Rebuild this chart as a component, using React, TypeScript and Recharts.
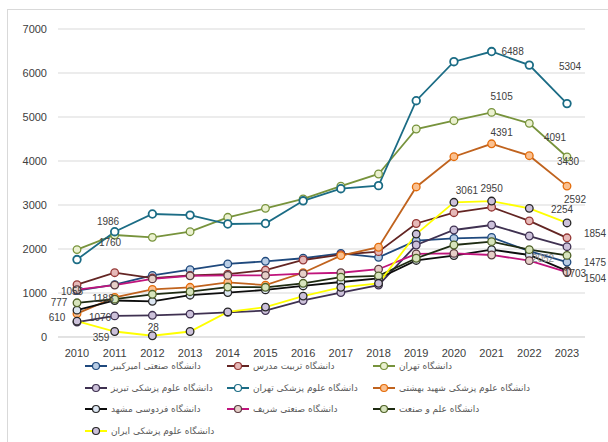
import React from 'react';
import { LineChart, Line, XAxis, YAxis, CartesianGrid } from 'recharts';

const years = ['2010', '2011', '2012', '2013', '2014', '2015', '2016', '2017', '2018', '2019', '2020', '2021', '2022', '2023'];
const yTicks = [0, 1000, 2000, 3000, 4000, 5000, 6000, 7000];

// series values
const amirkabir = [1055, 1190, 1400, 1530, 1660, 1720, 1790, 1900, 1810, 2190, 2242, 2265, 1950, 1703];
const tarbiatModares = [1188, 1461, 1340, 1400, 1430, 1520, 1750, 1870, 1940, 2580, 2825, 2950, 2640, 2254];
const tehran = [1986, 2318, 2265, 2393, 2720, 2924, 3140, 3430, 3705, 4727, 4916, 5105, 4856, 4091];
const tabrizMed = [340, 480, 493, 520, 560, 600, 830, 1010, 1180, 2091, 2432, 2545, 2295, 2052];
const tehranMed = [1760, 2393, 2795, 2770, 2568, 2580, 3095, 3370, 3440, 5370, 6257, 6488, 6180, 5304];
const beheshti = [530, 900, 1083, 1130, 1240, 1180, 1460, 1850, 2040, 3410, 4098, 4391, 4121, 3430];
const ferdowsi = [610, 830, 811, 950, 1010, 1070, 1160, 1250, 1330, 1740, 1850, 1985, 1864, 1504];
const sharif = [1076, 1180, 1320, 1390, 1400, 1400, 1440, 1460, 1540, 1890, 1900, 1864, 1735, 1475];
const elmoSanat = [777, 860, 970, 1030, 1135, 1130, 1220, 1360, 1390, 1790, 2091, 2167, 1985, 1854];
const iranMed = [359, 125, 28, 125, 570, 680, 930, 1130, 1220, 2340, 3061, 3090, 2924, 2592];

const series = [
  { key: 'amirkabir', name: 'دانشگاه صنعتی امیرکبیر', values: amirkabir, stroke: '#1F497D', fill: '#B9CDE5', dotStroke: '#1F497D' },
  { key: 'tarbiatModares', name: 'دانشگاه تربیت مدرس', values: tarbiatModares, stroke: '#632523', fill: '#E6B9B8', dotStroke: '#953735' },
  { key: 'tehran', name: 'دانشگاه تهران', values: tehran, stroke: '#77933C', fill: '#EBF1D0', dotStroke: '#77933C' },
  { key: 'tabrizMed', name: 'دانشگاه علوم پزشکی تبریز', values: tabrizMed, stroke: '#3F3151', fill: '#CCC1DA', dotStroke: '#3F3151' },
  { key: 'tehranMed', name: 'دانشگاه علوم پزشکی تهران', values: tehranMed, stroke: '#1B6C85', fill: '#FFFFFF', dotStroke: '#1B6C85' },
  { key: 'beheshti', name: 'دانشگاه علوم پزشکی شهید بهشتی', values: beheshti, stroke: '#C0631E', fill: '#FAC090', dotStroke: '#E46C0A' },
  { key: 'ferdowsi', name: 'دانشگاه فردوسی مشهد', values: ferdowsi, stroke: '#0D0D0D', fill: '#DCE6F2', dotStroke: '#262626' },
  { key: 'sharif', name: 'دانشگاه صنعتی شریف', values: sharif, stroke: '#C0147C', fill: '#E6CFC8', dotStroke: '#5A3A40' },
  { key: 'elmoSanat', name: 'دانشگاه علم و صنعت', values: elmoSanat, stroke: '#1E2B12', fill: '#D7E4BD', dotStroke: '#4F6228' },
  { key: 'iranMed', name: 'دانشگاه علوم پزشکی ایران', values: iranMed, stroke: '#FFFF00', fill: '#CCC1DA', dotStroke: '#262626' },
];

// data labels: which point, and where the label was dragged to
const dataLabels = [
  { key: 'tehran', year: '2010', dx: 31, dy: -28 },
  { key: 'tehranMed', year: '2010', dx: 33, dy: -17 },
  { key: 'amirkabir', year: '2010', dx: -5, dy: 1 },
  { key: 'tarbiatModares', year: '2010', dx: 26, dy: 14 },
  { key: 'elmoSanat', year: '2010', dx: -18, dy: 0 },
  { key: 'ferdowsi', year: '2010', dx: -20, dy: 7 },
  { key: 'sharif', year: '2010', dx: 23, dy: 28 },
  { key: 'iranMed', year: '2010', dx: 24, dy: 16 },
  { key: 'iranMed', year: '2012', dx: 1, dy: -8 },
  { key: 'tehranMed', year: '2021', dx: 21, dy: 0 },
  { key: 'tehranMed', year: '2023', dx: 3, dy: -37 },
  { key: 'tehran', year: '2021', dx: 10, dy: -16 },
  { key: 'beheshti', year: '2021', dx: 10, dy: -11 },
  { key: 'tehran', year: '2023', dx: -12, dy: -19 },
  { key: 'beheshti', year: '2023', dx: 1, dy: -25 },
  { key: 'iranMed', year: '2020', dx: 13, dy: -12 },
  { key: 'tarbiatModares', year: '2021', dx: 0, dy: -19 },
  { key: 'iranMed', year: '2023', dx: 8, dy: -23 },
  { key: 'tarbiatModares', year: '2023', dx: -5, dy: -28 },
  { key: 'elmoSanat', year: '2023', dx: 28, dy: -22 },
  { key: 'amirkabir', year: '2023', dx: 8, dy: 11 },
  { key: 'sharif', year: '2023', dx: 28, dy: -10 },
  { key: 'ferdowsi', year: '2023', dx: 28, dy: 8 },
  { key: 'tabrizMed', year: '2023', dx: -24, dy: 12, muted: true },
];

const data = years.map((year, i) => {
  const row: Record<string, any> = { year };
  series.forEach((s) => { row[s.key] = s.values[i]; });
  return row;
});

const font = '"Liberation Sans", Arial, sans-serif';

function makeLabel(key: string) {
  return (props: any) => {
    const { x, y, value, index } = props;
    const hit = dataLabels.find((l) => l.key === key && l.year === years[index]);
    if (!hit) return <g />;
    return (
      <text x={x + hit.dx} y={y + hit.dy} textAnchor="middle" dominantBaseline="central"
        fontSize={10} fontFamily={font} fill={hit.muted ? '#8c8c8c' : '#404040'}>
        {value}
      </text>
    );
  };
}

const legendCols = [85, 227, 373];
const legendRows = [366, 388, 409, 431];

function LegendItem({ s, x, y }: { s: typeof series[number]; x: number; y: number }) {
  return (
    <div style={{ position: 'absolute', left: x, top: y - 7, height: 14, display: 'flex', alignItems: 'center', whiteSpace: 'nowrap' }}>
      <svg width={22} height={12}>
        <line x1={0} y1={6} x2={22} y2={6} stroke={s.stroke} strokeWidth={2} />
        <circle cx={11} cy={6} r={3.5} fill={s.fill} stroke={s.dotStroke} strokeWidth={1.2} />
      </svg>
      <span style={{ marginLeft: 4, fontFamily: '"DejaVu Sans", sans-serif', fontSize: 9, color: '#595959' }}>{s.name}</span>
    </div>
  );
}

export default function App() {
  return (
    <div style={{ position: 'absolute', left: 0, top: 0, width: 608, height: 442, overflow: 'hidden', background: '#fff' }}>
      <div style={{ position: 'absolute', left: 7, top: 9, width: 640, height: 460, border: '1px solid #D9D9D9' }} />
      <div style={{ position: 'absolute', left: 0, top: 0 }}>
        <LineChart width={608} height={362} data={data} margin={{ top: 29, right: 23, left: 0, bottom: 0 }}>
          <CartesianGrid vertical={false} stroke="#D9D9D9" />
          <XAxis dataKey="year" height={25} padding={{ left: 19, right: 18 }} tickLine={false} tickSize={0} tickMargin={12}
            axisLine={{ stroke: '#D9D9D9' }} tick={{ fontSize: 11, fontFamily: font, fill: '#404040' }} interval={0} />
          <YAxis width={58} domain={[0, 7000]} ticks={yTicks} axisLine={false} tickLine={false} tickSize={0} tickMargin={11}
            tick={{ fontSize: 11, fontFamily: font, fill: '#404040' }} />
          {series.map((s) => (
            <Line key={s.key} dataKey={s.key} name={s.name} stroke={s.stroke} strokeWidth={1.8} isAnimationActive={false}
              dot={{ r: 3.8, fill: s.fill, stroke: s.dotStroke, strokeWidth: s.key === 'tehranMed' ? 1.8 : 1.3 }}
              label={makeLabel(s.key)} />
          ))}
        </LineChart>
      </div>
      {series.map((s, i) => (
        <LegendItem key={s.key} s={s} x={legendCols[i % 3]} y={legendRows[Math.floor(i / 3)]} />
      ))}
    </div>
  );
}
